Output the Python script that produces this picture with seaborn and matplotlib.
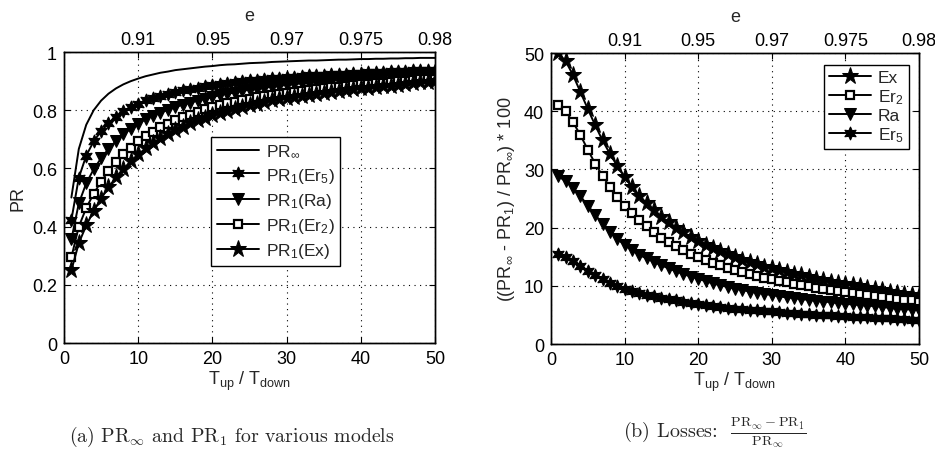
import matplotlib
matplotlib.use("Agg")
import matplotlib.pyplot as plt
import pandas as pd
import seaborn as sns

# ---------------- data ----------------
ratio = list(range(1, 51))  # T_up / T_down

pr_inf = [0.500, 0.667, 0.750, 0.800, 0.833, 0.857, 0.875, 0.889, 0.900, 0.909,
          0.917, 0.923, 0.929, 0.933, 0.938, 0.941, 0.944, 0.947, 0.950, 0.952,
          0.955, 0.957, 0.958, 0.960, 0.962, 0.963, 0.964, 0.966, 0.967, 0.968,
          0.969, 0.970, 0.971, 0.971, 0.972, 0.973, 0.974, 0.974, 0.975, 0.976,
          0.976, 0.977, 0.977, 0.978, 0.978, 0.979, 0.979, 0.980, 0.980, 0.980]

pr1_er5 = [0.423, 0.568, 0.644, 0.693, 0.728, 0.755, 0.777, 0.796, 0.810, 0.823,
           0.834, 0.842, 0.850, 0.856, 0.864, 0.869, 0.873, 0.878, 0.883, 0.886,
           0.891, 0.895, 0.897, 0.900, 0.903, 0.905, 0.907, 0.910, 0.912, 0.914,
           0.916, 0.918, 0.920, 0.921, 0.922, 0.924, 0.925, 0.926, 0.928, 0.929,
           0.930, 0.932, 0.932, 0.934, 0.934, 0.936, 0.937, 0.938, 0.939, 0.940]

pr1_ra = [0.356, 0.480, 0.549, 0.597, 0.635, 0.667, 0.694, 0.717, 0.737, 0.754,
          0.769, 0.782, 0.792, 0.801, 0.811, 0.819, 0.826, 0.833, 0.840, 0.845,
          0.852, 0.857, 0.861, 0.866, 0.871, 0.873, 0.877, 0.881, 0.884, 0.887,
          0.890, 0.892, 0.894, 0.896, 0.898, 0.901, 0.903, 0.904, 0.907, 0.909,
          0.910, 0.912, 0.913, 0.914, 0.915, 0.918, 0.919, 0.921, 0.922, 0.923]

pr1_er2 = [0.295, 0.400, 0.464, 0.513, 0.555, 0.591, 0.622, 0.649, 0.672, 0.693,
           0.711, 0.726, 0.741, 0.754, 0.766, 0.776, 0.785, 0.795, 0.803, 0.810,
           0.817, 0.824, 0.829, 0.834, 0.840, 0.845, 0.848, 0.853, 0.857, 0.861,
           0.864, 0.867, 0.871, 0.873, 0.876, 0.879, 0.881, 0.883, 0.886, 0.889,
           0.891, 0.893, 0.895, 0.898, 0.899, 0.902, 0.903, 0.906, 0.907, 0.908]

pr1_ex = [0.250, 0.343, 0.404, 0.454, 0.496, 0.535, 0.569, 0.598, 0.625, 0.648,
          0.669, 0.688, 0.704, 0.718, 0.733, 0.744, 0.755, 0.765, 0.775, 0.784,
          0.792, 0.799, 0.806, 0.812, 0.819, 0.823, 0.828, 0.834, 0.838, 0.842,
          0.846, 0.850, 0.853, 0.856, 0.860, 0.864, 0.867, 0.870, 0.873, 0.875,
          0.877, 0.880, 0.882, 0.885, 0.887, 0.891, 0.893, 0.896, 0.898, 0.900]

loss_ex = [50.0, 48.6, 46.2, 43.3, 40.4, 37.6, 35.0, 32.7, 30.6, 28.7,
           27.0, 25.5, 24.2, 23.0, 21.9, 20.9, 20.0, 19.2, 18.4, 17.7,
           17.1, 16.5, 15.9, 15.4, 14.9, 14.5, 14.1, 13.7, 13.3, 13.0,
           12.7, 12.4, 12.1, 11.8, 11.5, 11.2, 11.0, 10.7, 10.5, 10.3,
           10.1, 9.9, 9.7, 9.5, 9.3, 9.0, 8.8, 8.6, 8.4, 8.2]

loss_er2 = [41.0, 40.0, 38.1, 35.9, 33.4, 31.0, 28.9, 27.0, 25.3, 23.8,
            22.5, 21.3, 20.2, 19.2, 18.3, 17.5, 16.8, 16.1, 15.5, 14.9,
            14.4, 13.9, 13.5, 13.1, 12.7, 12.3, 12.0, 11.7, 11.4, 11.1,
            10.8, 10.6, 10.3, 10.1, 9.9, 9.7, 9.5, 9.3, 9.1, 8.9,
            8.7, 8.6, 8.4, 8.2, 8.1, 7.9, 7.8, 7.6, 7.5, 7.3]

loss_ra = [28.8, 28.0, 26.8, 25.4, 23.8, 22.2, 20.7, 19.3, 18.1, 17.0,
           16.1, 15.3, 14.7, 14.1, 13.5, 13.0, 12.5, 12.0, 11.6, 11.2,
           10.8, 10.4, 10.1, 9.8, 9.5, 9.3, 9.0, 8.8, 8.6, 8.4,
           8.2, 8.0, 7.9, 7.7, 7.6, 7.4, 7.3, 7.2, 7.0, 6.9,
           6.8, 6.7, 6.6, 6.5, 6.4, 6.2, 6.1, 6.0, 5.9, 5.8]

loss_er5 = [15.5, 14.9, 14.2, 13.4, 12.6, 11.9, 11.2, 10.5, 10.0, 9.5,
            9.1, 8.8, 8.5, 8.2, 7.9, 7.7, 7.5, 7.3, 7.1, 6.9,
            6.7, 6.5, 6.4, 6.2, 6.1, 6.0, 5.9, 5.8, 5.7, 5.6,
            5.5, 5.4, 5.3, 5.2, 5.1, 5.05, 5.0, 4.9, 4.85, 4.8,
            4.7, 4.65, 4.6, 4.5, 4.45, 4.4, 4.3, 4.25, 4.2, 4.1]

x_ticks = [0, 10, 20, 30, 40, 50]
left_y_ticks = [0, 0.2, 0.4, 0.6, 0.8, 1.0]
left_y_labels = ["0", "0.2", "0.4", "0.6", "0.8", "1"]
right_y_ticks = [0, 10, 20, 30, 40, 50]
e_tick_pos = [10, 20, 30, 40, 50]
e_tick_labels = ["0.91", "0.95", "0.97", "0.975", "0.98"]

# ---------------- style ----------------
sns.set_style("white")
plt.rcParams['font.family'] = ['Liberation Sans', 'DejaVu Sans']
plt.rcParams['mathtext.fontset'] = 'custom'
plt.rcParams['mathtext.rm'] = 'Liberation Sans'
plt.rcParams['mathtext.it'] = 'Liberation Sans:italic'
plt.rcParams['mathtext.bf'] = 'Liberation Sans:bold'

FS = 13
LFS = 12.5
fig = plt.figure(figsize=(9.35, 4.56), dpi=100)
ax1 = fig.add_axes([0.0684, 0.2456, 0.397, 0.638])
ax2 = fig.add_axes([0.5893, 0.2434, 0.3936, 0.638])

styles = {
    'er5': dict(marker=(6, 1, 0), markersize=9.5, markerfacecolor='k', markeredgecolor='k'),
    'ra': dict(marker='v', markersize=8.5, markerfacecolor='k', markeredgecolor='k'),
    'er2': dict(marker='s', markersize=5.2, markerfacecolor='white', markeredgecolor='k',
                markeredgewidth=1.6),
    'ex': dict(marker='*', markersize=12.5, markerfacecolor='k', markeredgecolor='k'),
}

df = pd.DataFrame({'ratio': ratio, 'pr_inf': pr_inf, 'pr1_er5': pr1_er5,
                   'pr1_ra': pr1_ra, 'pr1_er2': pr1_er2, 'pr1_ex': pr1_ex,
                   'loss_ex': loss_ex, 'loss_er2': loss_er2,
                   'loss_ra': loss_ra, 'loss_er5': loss_er5})

lw = 1.4
# left panel
sns.lineplot(data=df, x='ratio', y='pr_inf', ax=ax1, color='k', linewidth=lw,
             label=r'PR$_{\infty}$')
sns.lineplot(data=df, x='ratio', y='pr1_er5', ax=ax1, color='k', linewidth=lw,
             label=r'PR$_1$(Er$_5$)', **styles['er5'])
sns.lineplot(data=df, x='ratio', y='pr1_ra', ax=ax1, color='k', linewidth=lw,
             label=r'PR$_1$(Ra)', **styles['ra'])
sns.lineplot(data=df, x='ratio', y='pr1_er2', ax=ax1, color='k', linewidth=lw,
             label=r'PR$_1$(Er$_2$)', **styles['er2'])
sns.lineplot(data=df, x='ratio', y='pr1_ex', ax=ax1, color='k', linewidth=lw,
             label=r'PR$_1$(Ex)', **styles['ex'])

# right panel
sns.lineplot(data=df, x='ratio', y='loss_ex', ax=ax2, color='k', linewidth=lw,
             label='Ex', **styles['ex'])
sns.lineplot(data=df, x='ratio', y='loss_er2', ax=ax2, color='k', linewidth=lw,
             label=r'Er$_2$', **styles['er2'])
sns.lineplot(data=df, x='ratio', y='loss_ra', ax=ax2, color='k', linewidth=lw,
             label='Ra', **styles['ra'])
sns.lineplot(data=df, x='ratio', y='loss_er5', ax=ax2, color='k', linewidth=lw,
             label=r'Er$_5$', **styles['er5'])


def style_axes(ax, yticks, ylabels, ylim):
    ax.set_xlim(0, 50)
    ax.set_ylim(*ylim)
    ax.set_xticks(x_ticks)
    ax.set_xticklabels([str(t) for t in x_ticks])
    ax.set_yticks(yticks)
    ax.set_yticklabels(ylabels)
    ax.grid(True, color='k', linestyle=(0, (1, 4)), linewidth=0.8)
    ax.tick_params(direction='in', length=4, width=0.8, labelsize=FS, pad=5,
                   right=True, left=True, bottom=True, top=False, colors='k')
    for sp in ax.spines.values():
        sp.set_color('k')
        sp.set_linewidth(1.0)
    ax.set_xlabel(r'T$_{\mathrm{up}}$ / T$_{\mathrm{down}}$', fontsize=FS, labelpad=1)
    top = ax.twiny()
    top.set_xlim(0, 50)
    top.set_xticks(e_tick_pos)
    top.set_xticklabels(e_tick_labels)
    top.tick_params(direction='in', length=4, width=0.8, labelsize=FS, pad=3, colors='k')
    top.set_xlabel('e', fontsize=FS, labelpad=8)
    for sp in top.spines.values():
        sp.set_color('k')
        sp.set_linewidth(1.0)
    return top


style_axes(ax1, left_y_ticks, left_y_labels, (0, 1))
style_axes(ax2, right_y_ticks, [str(t) for t in right_y_ticks], (0, 50))
ax1.set_ylabel('PR', fontsize=FS, labelpad=4)
ax2.set_ylabel(r'((PR$_{\infty}$ - PR$_1$) / PR$_{\infty}$) * 100', fontsize=FS, labelpad=5)

leg1 = ax1.legend(loc='upper left', bbox_to_anchor=(0.396, 0.708), fontsize=LFS,
                  frameon=True, fancybox=False, edgecolor='k', framealpha=1,
                  handlelength=2.4, handletextpad=0.4, labelspacing=0.35,
                  borderpad=0.35, borderaxespad=0)
leg1.get_frame().set_linewidth(1.0)
leg2 = ax2.legend(loc='upper right', bbox_to_anchor=(0.973, 0.959), fontsize=LFS,
                  frameon=True, fancybox=False, edgecolor='k', framealpha=1,
                  handlelength=2.4, handletextpad=0.4, labelspacing=0.12,
                  borderpad=0.3, borderaxespad=0)
leg2.get_frame().set_linewidth(1.0)

fig.text(0.248, 1 - 437 / 456, r'(a) PR$_{\infty}$ and PR$_1$ for various models',
         ha='center', va='center', fontsize=14.3, family='cmr10', math_fontfamily='cm')
fig.text(0.765, 1 - 433 / 456,
         r'(b) Losses:  $\frac{\mathrm{PR}_{\infty}-\mathrm{PR}_1}{\mathrm{PR}_{\infty}}$',
         ha='center', va='center', fontsize=14.5, family='cmr10', math_fontfamily='cm')

fig.savefig('out.png', dpi=100, facecolor='white')
